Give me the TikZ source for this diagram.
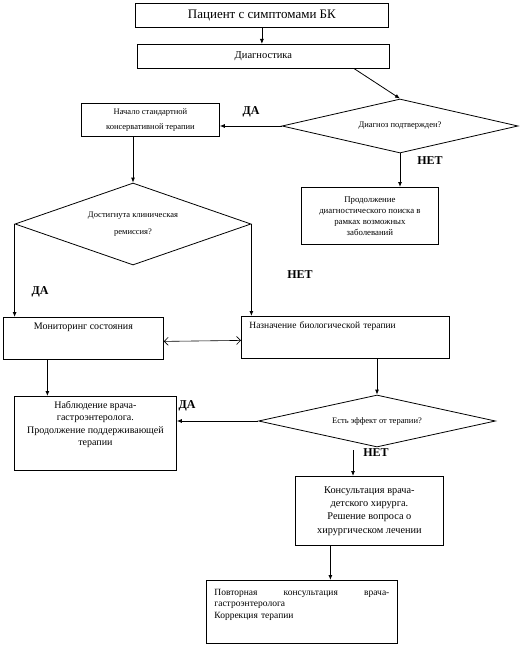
\documentclass[tikz,border=0pt]{standalone}
\usepackage{fontspec}
\setmainfont{Liberation Serif}
\usetikzlibrary{shapes.geometric,arrows.meta}

\begin{document}
\begin{tikzpicture}[x=1pt,y=-1pt,line width=0.8pt,
    box/.style={draw,rectangle,inner sep=3pt,anchor=north west},
    decision/.style={draw,diamond,inner sep=0pt,aspect=4,align=center,font=\fontsize{8.5}{17}\selectfont},
    arr/.style={-{Latex[length=5pt,width=4pt]}},
    yesno/.style={font=\fontsize{12}{14}\selectfont\bfseries}]
  \useasboundingbox (0,0) rectangle (529,647);

  \node [box,minimum width=253pt,minimum height=24pt,font=\fontsize{13}{15}\selectfont] (patient) at (135,3) {Пациент с симптомами БК};
  \node [box,minimum width=252pt,minimum height=24pt,font=\fontsize{10.5}{12}\selectfont] (diag) at (137,44) {Диагностика};
  \node [decision,minimum width=236pt,minimum height=54pt] (dq) at (400,126) {Диагноз подтвержден?};
  \node [box,minimum width=138pt,minimum height=33pt,align=center,font=\fontsize{8.5}{15}\selectfont] (start) at (81,103) {Начало стандартной\\консервативной терапии};
  \node [box,minimum width=137pt,minimum height=57pt,align=center,font=\fontsize{8.8}{11}\selectfont] (search) at (301,187) {Продолжение\\диагностического поиска в\\рамках возможных\\заболеваний};
  \node [decision,minimum width=236pt,minimum height=82pt] (rem) at (133,224) {Достигнута клиническая\\ремиссия?};
  \node [box,minimum width=160pt,text height=9pt,text depth=27pt,font=\fontsize{10}{12}\selectfont] (monit) at (3,317) {Мониторинг состояния};
  \node [box,minimum width=208pt,text width=192pt,text height=9pt,text depth=27pt,align=left,font=\fontsize{9.5}{12}\selectfont] (bio) at (241,316) {Назначение биологической терапии};
  \node [box,minimum width=162pt,text height=46.5pt,text depth=21.5pt,align=center,font=\fontsize{10}{12.5}\selectfont] (obs) at (14,396) {Наблюдение врача-\\гастроэнтеролога.\\Продолжение поддерживающей\\терапии};
  \node [decision,minimum width=237pt,minimum height=52pt] (eff) at (377,421) {Есть эффект от терапии?};
  \node [box,minimum width=148pt,minimum height=69pt,align=center,font=\fontsize{10.3}{13.3}\selectfont] (surg) at (295,476) {Консультация врача-\\детского хирурга.\\Решение вопроса о\\хирургическом лечении};
  \node [box,minimum width=191pt,text width=175pt,text height=12pt,text depth=45pt,align=left,font=\fontsize{9.5}{11.5}\selectfont] (rep) at (206,580) {Повторная\hfill консультация\hfill врача-\\гастроэнтеролога\\Коррекция терапии};

  % ДА / НЕТ
  \node [yesno] (yes1) at (251,112) {ДА};
  \node [yesno] (no1) at (430,161) {НЕТ};
  \node [yesno] (yes2) at (40,292) {ДА};
  \node [yesno] (no2) at (300,275) {НЕТ};
  \node [yesno] (yes3) at (187,406) {ДА};
  \node [yesno] (no3) at (376,453) {НЕТ};

  \draw [arr] (patient.south) -- (patient.south |- diag.north);
  \draw [arr] ([xshift=91pt]diag.south) -- (dq.north);
  \draw [arr] (dq.west) -- (start.east |- dq.west);
  \draw [arr] (dq.south) -- (dq.south |- search.north);
  \draw [arr] (rem.north |- start.south) -- (rem.north);
  \draw [arr] (rem.west) -- (rem.west |- monit.north);
  \draw [arr] (rem.east) -- (rem.east |- bio.north);
  \draw [{Straight Barb[length=4pt]}-{Straight Barb[length=4pt]},line width=0.6pt] ([yshift=-3pt]monit.east) -- ([yshift=-3pt]bio.west);
  \draw [arr] ([xshift=-36pt]monit.south) -- ([xshift=-36pt]monit.south |- obs.north);
  \draw [arr] (eff.north |- bio.south) -- (eff.north);
  \draw [arr] (eff.west) -- (obs.east |- eff.west);
  \draw [arr] ([xshift=-24pt,yshift=-3pt]eff.south) -- ([xshift=-24pt]eff.south |- surg.north);
  \draw [arr] ([xshift=-39pt]surg.south) -- ([xshift=-39pt]surg.south |- rep.north);
\end{tikzpicture}
\end{document}
